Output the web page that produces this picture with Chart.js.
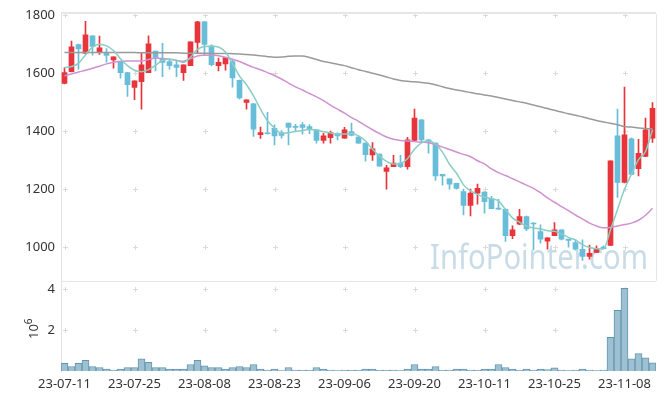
<!DOCTYPE html>
<html>
<head>
<meta charset="utf-8">
<script src="https://cdn.jsdelivr.net/npm/chart.js@4.4.0/dist/chart.umd.min.js"></script>
<style>
  html, body { margin: 0; padding: 0; background: #fff; }
  #wrap { width: 665px; height: 399px; }
</style>
</head>
<body>
<div id="wrap"><canvas id="stock" width="665" height="399"></canvas></div>
<script>
// trading days, 2023-07-11 .. 2023-11-14
var dates = [
  '23-07-11','23-07-12','23-07-13','23-07-14','23-07-17','23-07-18','23-07-19','23-07-20','23-07-21','23-07-24',
  '23-07-25','23-07-26','23-07-27','23-07-28','23-07-31','23-08-01','23-08-02','23-08-03','23-08-04','23-08-07',
  '23-08-08','23-08-09','23-08-10','23-08-11','23-08-14','23-08-16','23-08-17','23-08-18','23-08-21','23-08-22',
  '23-08-23','23-08-24','23-08-25','23-08-28','23-08-29','23-08-30','23-08-31','23-09-01','23-09-04','23-09-05',
  '23-09-06','23-09-07','23-09-08','23-09-11','23-09-12','23-09-13','23-09-14','23-09-15','23-09-18','23-09-19',
  '23-09-20','23-09-21','23-09-22','23-09-25','23-09-26','23-09-27','23-10-04','23-10-05','23-10-06','23-10-10',
  '23-10-11','23-10-12','23-10-13','23-10-16','23-10-17','23-10-18','23-10-19','23-10-20','23-10-23','23-10-24',
  '23-10-25','23-10-26','23-10-27','23-10-30','23-10-31','23-11-01','23-11-02','23-11-03','23-11-06','23-11-07',
  '23-11-08','23-11-09','23-11-10','23-11-13','23-11-14'
];

var openP = [
  1565,1605,1699,1668,1729,1672,1671,1646,1640,1602, 1551,1571,1602,1676,1651,1640,1629,1602,1626,1706,
  1777,1694,1626,1632,1640,1575,1499,1494,1388,1394, 1410,1395,1428,1416,1422,1416,1405,1368,1378,1393,
  1376,1399,1380,1359,1318,1321,1261,1278,1290,1278, 1368,1439,1370,1359,1251,1236,1220,1192,1144,1186,
  1190,1168,1135,1131,1040,1079,1106,1083,1054,1021, 1040,1060,1028,1016,993,968,982,1000,1006,1384,
  1223,1374,1271,1313,1376
];
var highP = [
  1619,1711,1700,1779,1729,1728,1685,1656,1641,1603, 1574,1669,1729,1676,1703,1646,1644,1629,1708,1779,
  1779,1698,1652,1655,1645,1576,1508,1496,1414,1465, 1422,1402,1428,1424,1430,1423,1405,1393,1400,1394,
  1413,1428,1384,1360,1361,1322,1282,1317,1317,1379, 1476,1440,1372,1360,1251,1236,1221,1200,1200,1218,
  1192,1175,1165,1132,1074,1131,1107,1085,1077,1033, 1085,1060,1028,1025,1025,1007,1005,1005,1298,1476,
  1552,1377,1372,1445,1499
];
var lowP = [
  1563,1604,1614,1667,1662,1665,1638,1617,1583,1520, 1509,1476,1602,1608,1588,1614,1588,1575,1626,1669,
  1663,1625,1608,1610,1552,1510,1476,1382,1375,1390, 1353,1376,1353,1399,1390,1391,1359,1359,1359,1370,
  1375,1384,1358,1297,1299,1279,1200,1278,1274,1269, 1367,1361,1324,1230,1214,1200,1200,1111,1108,1148,
  1117,1132,1130,1020,1029,1078,1057,991,1014,993, 1040,1025,1000,990,954,959,981,994,1005,1172,
  1222,1250,1246,1312,1361
];
var closeP = [
  1602,1691,1684,1732,1692,1687,1661,1656,1602,1560, 1574,1629,1701,1654,1637,1626,1620,1629,1708,1777,
  1699,1629,1637,1654,1584,1515,1508,1407,1395,1391, 1384,1385,1413,1413,1413,1407,1368,1384,1395,1384,
  1405,1385,1359,1319,1339,1279,1274,1290,1278,1370, 1445,1370,1361,1246,1246,1217,1203,1144,1187,1203,
  1157,1133,1131,1040,1060,1106,1063,1080,1028,1032, 1060,1028,1023,993,968,979,995,995,1298,1223,
  1387,1251,1324,1405,1479
];
var volume = [
  370000,220000,370000,520000,220000,170000,100000,50000,100000,170000,
  170000,600000,430000,170000,170000,100000,100000,100000,320000,520000,
  250000,170000,170000,100000,170000,220000,170000,320000,100000,50000,
  100000,20000,170000,50000,50000,50000,170000,100000,50000,20000,
  50000,50000,50000,100000,100000,50000,50000,50000,20000,100000,
  320000,100000,100000,220000,50000,50000,100000,100000,50000,50000,
  100000,100000,320000,170000,100000,50000,100000,50000,100000,70000,
  150000,50000,20000,50000,100000,50000,20000,50000,1650000,2970000,
  4050000,600000,850000,650000,400000
];
var ma5 = [
  1619,1623,1634,1663,1690,1700,1694,1678,1650,1626, 1610,1605,1612,1627,1644,1648,1645,1637,1655,1682,
  1692,1693,1690,1673,1633,1590,1560,1522,1476,1436, 1411,1393,1395,1399,1402,1406,1404,1398,1394,1390,
  1390,1392,1384,1366,1338,1314,1296,1287,1289,1305, 1338,1360,1366,1355,1328,1286,1255,1215,1194,1182,
  1173,1167,1160,1130,1101,1086,1073,1066,1063,1057, 1055,1046,1034,1025,1009,999,995,994,1060,1130,
  1200,1252,1302,1330,1405
];
var ma20 = [
  1591,1597,1604,1610,1617,1624,1632,1638,1641,1642, 1642,1642,1647,1652,1651,1648,1644,1641,1650,1659,
  1662,1663,1660,1655,1648,1640,1630,1620,1612,1602, 1592,1580,1566,1553,1542,1530,1518,1505,1490,1476,
  1462,1447,1434,1419,1405,1392,1380,1372,1368,1366, 1364,1362,1360,1354,1345,1337,1328,1320,1312,1298,
  1287,1270,1257,1247,1236,1225,1214,1203,1188,1170, 1155,1140,1126,1111,1097,1083,1073,1067,1068,1073,
  1078,1083,1093,1110,1134
];
var ma60 = [
  1671,1671,1671,1671,1671,1671,1671,1671,1671,1671, 1671,1670,1670,1670,1670,1670,1670,1669,1669,1669,
  1669,1668,1668,1668,1667,1666,1664,1663,1660,1657, 1655,1656,1658,1659,1659,1654,1647,1640,1636,1631,
  1626,1619,1612,1606,1600,1594,1587,1580,1575,1572, 1570,1568,1565,1560,1553,1547,1542,1538,1533,1529,
  1525,1521,1516,1511,1506,1501,1496,1490,1484,1478, 1472,1466,1460,1455,1449,1443,1437,1432,1427,1422,
  1416,1414,1411,1409,1408
];
var priceTicks = [1000, 1200, 1400, 1600, 1800];
var volTicks = [2000000, 4000000];

var red = '#e8343b';
var blue = '#68bed8';
var candleColors = closeP.map(function(c, i) { return c >= openP[i] ? red : blue; });

var chartFont = '"Noto Sans", "Open Sans", sans-serif';

// crosses at tick positions, frame lines, watermark and the 10^6 label
var decor = {
  id: 'decor',
  beforeDatasetsDraw: function(chart) {
    var ctx = chart.ctx;
    var area = chart.chartArea;
    var x = chart.scales.x, y = chart.scales.y, yv = chart.scales.yv;
    ctx.save();
    ctx.strokeStyle = '#dadada';
    ctx.lineWidth = 1;
    for (var i = 0; i < dates.length; i += 10) {
      var px = Math.round(x.getPixelForValue(i)) + 0.5;
      priceTicks.forEach(function(v) { cross(ctx, px, Math.round(y.getPixelForValue(v)) + 0.5); });
      volTicks.forEach(function(v) { cross(ctx, px, Math.round(yv.getPixelForValue(v)) + 0.5); });
    }
    // frame of the price panel
    ctx.strokeStyle = '#e6e6e6';
    ctx.lineWidth = 2;
    ctx.beginPath();
    ctx.moveTo(area.left, area.top - 1);
    ctx.lineTo(area.right, area.top - 1);
    ctx.stroke();
    ctx.lineWidth = 1;
    ctx.beginPath();
    ctx.moveTo(area.right + 0.5, area.top);
    ctx.lineTo(area.right + 0.5, y.bottom);
    ctx.moveTo(area.left, Math.round(y.bottom) + 0.5);
    ctx.lineTo(area.right, Math.round(y.bottom) + 0.5);
    ctx.stroke();
    // watermark
    ctx.font = '34px ' + chartFont;
    var w = ctx.measureText('InfoPointer.com').width;
    ctx.translate(430, 269);
    ctx.scale(218 / w, 1);
    ctx.fillStyle = '#c8dce8';
    ctx.textBaseline = 'alphabetic';
    ctx.fillText('InfoPointer.com', 0, 0);
    ctx.restore();
  },
  afterDraw: function(chart) {
    var ctx = chart.ctx;
    ctx.save();
    ctx.translate(38, 331);
    ctx.rotate(-Math.PI / 2);
    ctx.fillStyle = '#333';
    ctx.textBaseline = 'alphabetic';
    ctx.font = '13px ' + chartFont;
    ctx.fillText('10', -8, 0);
    var w = ctx.measureText('10').width;
    ctx.font = '10px ' + chartFont;
    ctx.fillText('6', -8 + w, -6);
    ctx.restore();
  }
};

function cross(ctx, px, py) {
  ctx.beginPath();
  ctx.moveTo(px - 2.5, py);
  ctx.lineTo(px + 2.5, py);
  ctx.moveTo(px, py - 2.5);
  ctx.lineTo(px, py + 2.5);
  ctx.stroke();
}

function maLine(label, data, color) {
  return {
    type: 'line', label: label, data: data, yAxisID: 'y',
    borderColor: color, borderWidth: 1.5, pointRadius: 0,
    cubicInterpolationMode: 'monotone', fill: false, order: 0
  };
}

var ctx = document.getElementById('stock');
var stockChart = new Chart(ctx, {
  data: {
    labels: dates,
    datasets: [
      maLine('MA5', ma5, '#8bcdc2'),
      maLine('MA20', ma20, '#cf92cf'),
      maLine('MA60', ma60, '#9a9a9a'),
      {
        type: 'bar', label: 'body', yAxisID: 'y', grouped: false, order: 1,
        data: openP.map(function(o, i) { return [o, closeP[i]]; }),
        backgroundColor: candleColors, barThickness: 5, minBarLength: 1
      },
      {
        type: 'bar', label: 'wick', yAxisID: 'y', grouped: false, order: 2,
        data: lowP.map(function(l, i) { return [l, highP[i]]; }),
        backgroundColor: candleColors, barThickness: 1
      },
      {
        type: 'bar', label: 'volume', yAxisID: 'yv', grouped: false, order: 3,
        data: volume,
        backgroundColor: '#9dc1d2', borderColor: '#6596b0', borderWidth: 1,
        barPercentage: 1, categoryPercentage: 1
      }
    ]
  },
  options: {
    responsive: false,
    animation: false,
    devicePixelRatio: 1,
    layout: { padding: { top: 14, right: 9, left: 0, bottom: 0 } },
    plugins: { legend: { display: false }, tooltip: { enabled: false } },
    scales: {
      x: {
        type: 'category',
        offset: true,
        grid: { display: false, drawTicks: false },
        border: { display: false },
        ticks: {
          autoSkip: false, maxRotation: 0, padding: 5,
          color: '#333', font: { family: chartFont, size: 13 },
          callback: function(v, i) { return i % 10 === 0 ? dates[i] : null; }
        },
        afterFit: function(axis) { axis.height = 28; }
      },
      y: {
        position: 'left', stack: 'panels', stackWeight: 2.96, weight: 2,
        min: 884, max: 1804,
        grid: { display: false, drawTicks: false },
        border: { color: '#e2e2e2', width: 1 },
        afterBuildTicks: function(axis) { axis.ticks = priceTicks.map(function(v) { return { value: v }; }); },
        ticks: {
          padding: 6, color: '#333', font: { family: chartFont, size: 13 },
          callback: function(v) { return String(v); }
        },
        afterFit: function(axis) { axis.width = 61; }
      },
      yv: {
        position: 'left', stack: 'panels', stackWeight: 1, weight: 1,
        min: 0, max: 4420000,
        grid: { display: false, drawTicks: false },
        border: { color: '#e2e2e2', width: 1 },
        afterBuildTicks: function(axis) { axis.ticks = volTicks.map(function(v) { return { value: v }; }); },
        ticks: {
          padding: 6, color: '#333', font: { family: chartFont, size: 13 },
          callback: function(v) { return String(v / 1000000); }
        },
        afterFit: function(axis) { axis.width = 61; }
      }
    }
  },
  plugins: [decor]
});
</script>
</body>
</html>
